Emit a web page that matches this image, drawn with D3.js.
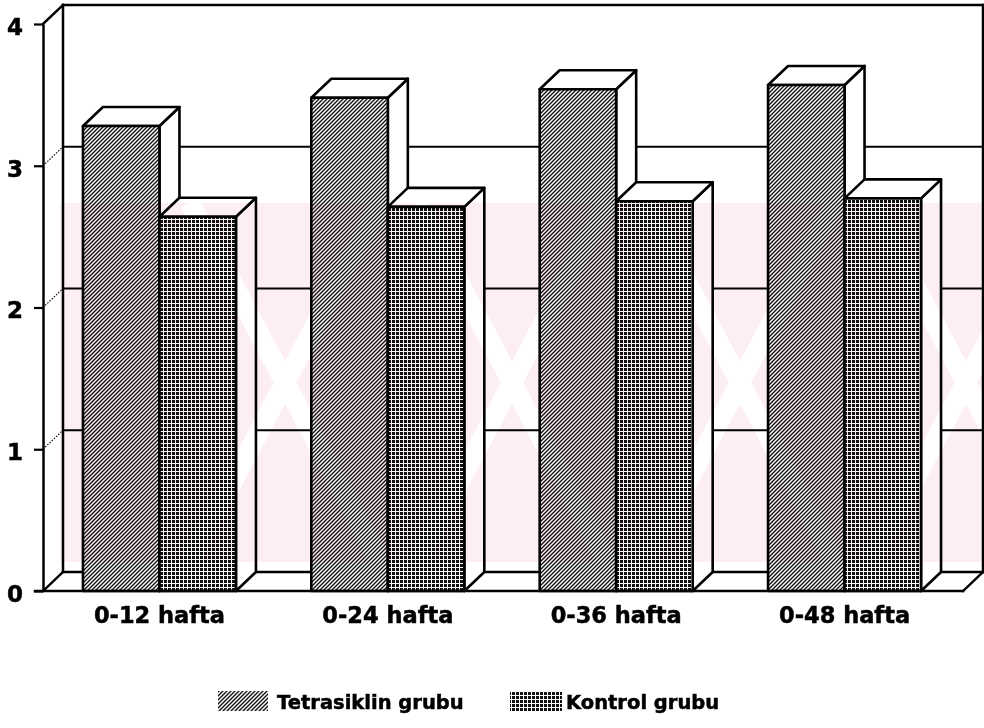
<!DOCTYPE html>
<html>
<head>
<meta charset="utf-8">
<script src="https://cdn.jsdelivr.net/npm/d3@7"></script>
<style>
  html, body { margin: 0; padding: 0; background: #fff; }
  svg { display: block; }
  text { font-family: "DejaVu Sans", Arial, Helvetica, sans-serif; font-weight: bold; fill: #000; stroke: #000; stroke-width: 0.5px; }
</style>
</head>
<body>
<svg id="chart" width="984" height="728"></svg>
<script>
// Mean values per period for the two study groups
const categories = ["0-12 hafta", "0-24 hafta", "0-36 hafta", "0-48 hafta"];
const seriesNames = ["Tetrasiklin grubu", "Kontrol grubu"];
const tetrasiklin = [3.28, 3.48, 3.54, 3.57];
const kontrol = [2.64, 2.71, 2.75, 2.77];
const yTicks = [0, 1, 2, 3, 4];

(function () {
const rows = categories.map((c, i) => ({ cat: c, values: [tetrasiklin[i], kontrol[i]] }));

const svg = d3.select("#chart");
const FONT = "'DejaVu Sans', Arial, sans-serif";

// Front plane of the 3D box and its depth offset
const plotL = 43, plotR = 963, plotB = 591, plotT = 24;
const dx = 20, dy = 19;

const y = d3.scaleLinear().domain([0, 4]).range([plotB, plotT]);
const x0 = d3.scaleBand().domain(categories).range([plotL, 961]).paddingInner(0.33).paddingOuter(0.175);
const x1 = d3.scaleBand().domain(seriesNames).range([0, x0.bandwidth()]);

// Fill patterns: diagonal hatch and dotted grid
const defs = svg.append("defs");
const hatch = defs.append("pattern").attr("id", "hatch")
  .attr("patternUnits", "userSpaceOnUse").attr("width", 4).attr("height", 4);
hatch.append("rect").attr("width", 4).attr("height", 4).attr("fill", "#111");
hatch.append("path").attr("d", "M-1,1 L1,-1 M0,4 L4,0 M3,5 L5,3")
  .attr("stroke", "#fff").attr("stroke-width", 1.45);

const grid = defs.append("pattern").attr("id", "dots")
  .attr("patternUnits", "userSpaceOnUse").attr("width", 4).attr("height", 4);
grid.append("rect").attr("width", 4).attr("height", 4).attr("fill", "#fff");
grid.append("rect").attr("x", 0).attr("y", 0).attr("width", 3).attr("height", 3).attr("fill", "#111");

const fills = { "Tetrasiklin grubu": "url(#hatch)", "Kontrol grubu": "url(#dots)" };

const line = (g, xa, ya, xb, yb, w = 2, dash = null) => {
  const l = g.append("line").attr("x1", xa).attr("y1", ya).attr("x2", xb).attr("y2", yb)
    .attr("stroke", "#000").attr("stroke-width", w).attr("stroke-linecap", "square");
  if (dash) l.attr("stroke-dasharray", dash).attr("stroke-linecap", "butt");
  return l;
};

// Box: back wall, left wall, floor
const box = svg.append("g");
box.append("rect").attr("x", plotL + dx).attr("y", plotT - dy)
  .attr("width", plotR - plotL).attr("height", plotB - plotT).attr("fill", "#fff");

// Back-wall grid lines and dotted connectors on the left wall
yTicks.filter(v => v > 0 && v < 4).forEach(v => {
  line(box, plotL + dx, y(v) - dy, plotR + dx, y(v) - dy, 1.8);
  line(box, plotL, y(v), plotL + dx, y(v) - dy, 1.1, "1.5,1.5");
});
line(box, plotL + dx, plotT - dy, plotR + dx, plotT - dy, 2.5);        // top of back wall
line(box, plotL + dx, plotT - dy, plotL + dx, plotB - dy, 2.5);        // back-left edge
line(box, plotR + dx, plotT - dy, plotR + dx, plotB - dy, 2.5);        // back-right edge
line(box, plotL, plotT, plotL + dx, plotT - dy, 2.5);                  // top of left wall
line(box, plotL, plotB, plotL + dx, plotB - dy, 2.3);                  // floor left
line(box, plotL + dx, plotB - dy, plotR + dx, plotB - dy, 2.3);        // floor back edge
line(box, plotR, plotB, plotR + dx, plotB - dy, 2.3);                  // floor right

// Bars drawn as prisms: front face, top, right side
const bars = svg.append("g");
rows.forEach(r => {
  r.values.forEach((v, j) => {
    const name = seriesNames[j];
    const bx = x0(r.cat) + x1(name), bw = x1.bandwidth();
    const yt = y(v), yb = y(0);
    const g = bars.append("g").attr("stroke", "#000").attr("stroke-width", 2.6).attr("stroke-linejoin", "round");
    g.append("polygon").attr("fill", "#fff")
      .attr("points", [[bx + bw, yt], [bx + bw + dx, yt - dy], [bx + bw + dx, yb - dy], [bx + bw, yb]].join(" "));
    g.append("polygon").attr("fill", "#fff")
      .attr("points", [[bx, yt], [bx + dx, yt - dy], [bx + bw + dx, yt - dy], [bx + bw, yt]].join(" "));
    g.append("rect").attr("x", bx).attr("y", yt).attr("width", bw).attr("height", yb - yt)
      .attr("fill", fills[name]);
  });
});

// Front floor edge
line(svg, 35, plotB, plotR, plotB, 2.5);

// Y axis
const yAxis = svg.append("g").attr("transform", `translate(${plotL},0)`)
  .call(d3.axisLeft(y).tickValues(yTicks).tickFormat(d3.format("d")).tickSize(9).tickSizeOuter(0).tickPadding(11));
yAxis.select(".domain").attr("stroke", "#000").attr("stroke-width", 2.5);
yAxis.selectAll(".tick line").attr("stroke", "#000").attr("stroke-width", 2.2);
yAxis.selectAll(".tick text").attr("font-size", 23).attr("dy", "0.45em")
  .style("font-family", FONT).style("font-weight", "bold");

// Category axis
const xAxis = svg.append("g").attr("transform", `translate(0,${plotB})`)
  .call(d3.axisBottom(x0).tickSize(0).tickPadding(16));
xAxis.select(".domain").remove();
xAxis.selectAll(".tick text").attr("font-size", 22.5)
  .style("font-family", FONT).style("font-weight", "bold");

// Faint pink background mark over the plot area
const wm = svg.append("g").style("mix-blend-mode", "multiply");
defs.append("clipPath").attr("id", "wmclip").append("rect")
  .attr("x", 60).attr("y", 203).attr("width", 924).attr("height", 359);
const wmg = wm.append("g").attr("clip-path", "url(#wmclip)");
wmg.append("rect").attr("x", 60).attr("y", 203).attr("width", 924).attr("height", 359).attr("fill", "#fdeef1");
[285, 512, 740, 966].forEach(cx => {
  wmg.append("path").attr("d", `M${cx - 95},203 L${cx + 95},562 M${cx + 95},203 L${cx - 95},562`)
    .attr("stroke", "#fff").attr("stroke-width", 20);
});

// Legend
const legend = svg.append("g");
const legendItems = [
  { name: seriesNames[0], sx: 218, sw: 50, tx: 277 },
  { name: seriesNames[1], sx: 510, sw: 52, tx: 566 }
];
legendItems.forEach(d => {
  legend.append("rect").attr("x", d.sx).attr("y", 691).attr("width", d.sw).attr("height", 20)
    .attr("fill", fills[d.name]);
  legend.append("text").attr("x", d.tx).attr("y", 709).attr("font-size", 19.5)
    .style("font-family", FONT).text(d.name);
});
})();
</script>
</body>
</html>
